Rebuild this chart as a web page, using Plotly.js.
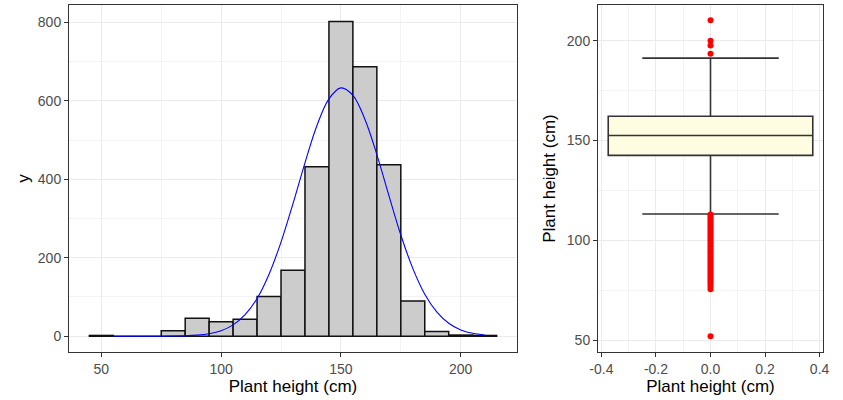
<!DOCTYPE html>
<html>
<head>
<meta charset="utf-8">
<script src="https://cdn.plot.ly/plotly-3.0.1.min.js"></script>
<style>html,body{margin:0;padding:0;background:#fff;}#chart{width:843px;height:400px;}</style>
</head>
<body>
<div id="chart"></div>
<script>
// Histogram of plant height (bin width 10)
const binCenters = [50, 60, 70, 80, 90, 100, 110, 120, 130, 140, 150, 160, 170, 180, 190, 200, 210];
const binCounts  = [2, 0, 0, 14, 46, 37, 43, 101, 168, 432, 802, 687, 437, 90, 12, 3, 2];

// Fitted normal curve
const curveX = [55, 60, 65, 70, 75, 80, 85, 90, 95, 100, 105, 110, 115, 120, 125, 130, 135, 140, 145, 150, 155, 160, 165, 170, 175, 180, 185, 190, 195, 200, 205, 210];
const curveY = [0, 0, 0, 0, 0.1, 0.4, 1, 2.7, 6.4, 14, 29, 55, 96, 158, 240, 338, 442, 537, 605, 633, 614, 553, 463, 359, 258, 173, 107, 62, 33, 16, 7.5, 3.2];

// Box plot statistics
const boxQ1 = [142.6];
const boxMedian = [152.5];
const boxQ3 = [162.2];
const boxLowerWhisker = [113.2];
const boxUpperWhisker = [191.3];

// Outliers
const outliersHigh = [193.5, 197.6, 200, 210.3];
const outliersLow = [113, 112, 111, 110, 109, 108, 107, 106, 105, 104, 103, 102, 101, 100, 99, 98, 97, 96, 95, 94, 93, 92, 91, 90, 89, 88, 87, 86, 85, 84, 83, 82, 81, 80, 79, 78, 76.8, 75.5, 52];

const W = 843, H = 400;
const px = v => v / W, py = v => 1 - v / H;

const allOut = outliersHigh.concat(outliersLow);

const traces = [
  {
    type: 'bar', x: binCenters, y: binCounts, width: 10,
    marker: {color: '#CCCCCC', line: {color: '#111111', width: 1.5}},
    xaxis: 'x', yaxis: 'y', hoverinfo: 'x+y'
  },
  {
    type: 'scatter', mode: 'lines', x: curveX, y: curveY,
    line: {color: '#0000FF', width: 1.1, shape: 'spline'},
    xaxis: 'x', yaxis: 'y'
  },
  {
    type: 'box', x: [0], q1: boxQ1, median: boxMedian, q3: boxQ3,
    lowerfence: boxLowerWhisker, upperfence: boxUpperWhisker,
    width: 0.75, whiskerwidth: 0.667, boxpoints: false,
    fillcolor: '#FFFDE1', line: {color: '#333333', width: 1.6},
    xaxis: 'x2', yaxis: 'y2'
  },
  {
    type: 'scatter', mode: 'markers', x: allOut.map(() => 0), y: allOut,
    marker: {color: '#FF0000', size: 6},
    xaxis: 'x2', yaxis: 'y2'
  }
];

const gridCol = '#EBEBEB';
const tickFont = {family: 'Liberation Sans, Arial, sans-serif', size: 14, color: '#4D4D4D'};
const titleFont = {family: 'Liberation Sans, Arial, sans-serif', size: 17, color: '#000000'};
const baseAxis = {
  showline: true, mirror: true, linecolor: '#333333', linewidth: 1,
  ticks: 'outside', ticklen: 4, tickcolor: '#333333', tickwidth: 1,
  showgrid: true, gridcolor: gridCol, gridwidth: 1, zeroline: false,
  tickfont: tickFont, automargin: false, fixedrange: true
};

const layout = {
  width: W, height: H,
  margin: {l: 0, r: 0, t: 0, b: 0},
  paper_bgcolor: '#FFFFFF', plot_bgcolor: '#FFFFFF',
  showlegend: false, bargap: 0,
  font: {family: 'Liberation Sans, Arial, sans-serif'},
  xaxis: Object.assign({}, baseAxis, {
    domain: [px(69), px(517)], range: [36.5, 223.5],
    tickvals: [50, 100, 150, 200],
    minor: {tickvals: [75, 125, 175], showgrid: true, gridcolor: '#F3F3F3', ticks: ''},
    title: {text: 'Plant height (cm)', font: titleFont, standoff: 3},
    anchor: 'y'
  }),
  yaxis: Object.assign({}, baseAxis, {
    domain: [py(352), py(5)], range: [-40.2, 844.2],
    tickvals: [0, 200, 400, 600, 800],
    minor: {tickvals: [100, 300, 500, 700], showgrid: true, gridcolor: '#F3F3F3', ticks: ''},
    title: {text: 'y', font: titleFont, standoff: 3},
    anchor: 'x'
  }),
  xaxis2: Object.assign({}, baseAxis, {
    domain: [px(598), px(823)], range: [-0.4125, 0.4125],
    tickvals: [-0.4, -0.2, 0, 0.2, 0.4], ticktext: ['-0.4', '-0.2', '0.0', '0.2', '0.4'],
    minor: {tickvals: [-0.3, -0.1, 0.1, 0.3], showgrid: true, gridcolor: '#F3F3F3', ticks: ''},
    title: {text: 'Plant height (cm)', font: titleFont, standoff: 3},
    anchor: 'y2'
  }),
  yaxis2: Object.assign({}, baseAxis, {
    domain: [py(352), py(5)], range: [44.1, 217.9],
    tickvals: [50, 100, 150, 200],
    minor: {tickvals: [75, 125, 175], showgrid: true, gridcolor: '#F3F3F3', ticks: ''},
    title: {text: 'Plant height (cm)', font: titleFont, standoff: 6},
    anchor: 'x2'
  })
};

Plotly.newPlot('chart', traces, layout, {displayModeBar: false, staticPlot: true});
</script>
</body>
</html>
